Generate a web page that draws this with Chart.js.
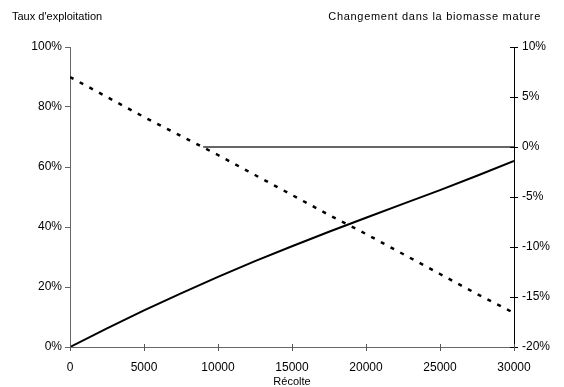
<!DOCTYPE html>
<html>
<head>
<meta charset="utf-8">
<script src="https://cdn.jsdelivr.net/npm/chart.js@4/dist/chart.umd.min.js"></script>
<style>
  html, body { margin: 0; padding: 0; background: #fff; }
  #wrap { width: 564px; height: 387px; position: relative; }
</style>
</head>
<body>
<div id="wrap"><canvas id="c" width="564" height="387"></canvas></div>
<script>
// ---- Data ----
const harvest = [0, 2500, 5000, 7500, 10000, 12500, 15000, 17500, 20000, 22500, 25000, 27500, 30000];
const exploitationRate = [0, 6.2, 12.2, 17.9, 23.4, 28.6, 33.6, 38.4, 43.1, 47.7, 52.3, 57.1, 62.0];      // % (left axis)
const biomassChange = [7.0, 5.0, 3.0, 1.1, -0.8, -2.8, -4.8, -6.8, -8.7, -10.7, -12.7, -14.7, -16.6];     // % (right axis)
const refHarvest = [9000, 30000];
const refChange = [0, 0];
const leftTitle = "Taux d'exploitation";
const rightTitle = "Changement dans la biomasse mature";
const xTitle = "Récolte";

const FONT = "'Liberation Sans', Arial, sans-serif";

const toXY = (xs, ys) => xs.map((x, i) => ({ x: x, y: ys[i] }));

// Crossing tick marks and titles
const decor = {
  id: 'decor',
  afterDraw(chart) {
    const ctx = chart.ctx;
    const ca = chart.chartArea;
    const xs = chart.scales.x, yr = chart.scales.yR;
    ctx.save();
    ctx.strokeStyle = '#000';
    ctx.lineWidth = 1;
    yr.ticks.forEach(t => {
      const py = Math.round(yr.getPixelForValue(t.value)) + 0.5;
      ctx.beginPath();
      ctx.moveTo(ca.right - 4, py);
      ctx.lineTo(ca.right + 4, py);
      ctx.stroke();
    });
    ctx.strokeStyle = '#555';
    xs.ticks.forEach(t => {
      const px = Math.round(xs.getPixelForValue(t.value)) + 0.5;
      ctx.beginPath();
      ctx.moveTo(px, ca.bottom - 3);
      ctx.lineTo(px, ca.bottom + 4);
      ctx.stroke();
    });
    ctx.fillStyle = '#000';
    ctx.font = '11px ' + FONT;
    ctx.textBaseline = 'middle';
    ctx.textAlign = 'left';
    ctx.fillText(leftTitle, 12, 17);
    ctx.textAlign = 'right';
    if ('letterSpacing' in ctx) ctx.letterSpacing = '0.7px';
    ctx.fillText(rightTitle, 541, 17);
    if ('letterSpacing' in ctx) ctx.letterSpacing = '0px';
    ctx.textAlign = 'center';
    ctx.fillText(xTitle, (ca.left + ca.right) / 2, 382);
    ctx.restore();
  }
};

new Chart(document.getElementById('c'), {
  type: 'line',
  data: {
    datasets: [
      {
        label: 'Taux d\'exploitation',
        data: toXY(harvest, exploitationRate),
        yAxisID: 'yL',
        borderColor: '#000',
        borderWidth: 2,
        pointRadius: 0,
        tension: 0,
        fill: false
      },
      {
        label: 'Changement dans la biomasse mature',
        data: toXY(harvest, biomassChange),
        yAxisID: 'yR',
        borderColor: '#000',
        borderWidth: 2.5,
        borderDash: [4, 7],
        borderCapStyle: 'butt',
        pointRadius: 0,
        tension: 0,
        fill: false
      },
      {
        label: 'Référence',
        data: toXY(refHarvest, refChange),
        yAxisID: 'yR',
        borderColor: '#333',
        borderWidth: 1.5,
        pointRadius: 0,
        fill: false
      }
    ]
  },
  options: {
    responsive: false,
    animation: false,
    layout: { padding: { top: 47, left: 0, right: 0, bottom: 0 } },
    plugins: { legend: { display: false }, tooltip: { enabled: false }, title: { display: false } },
    scales: {
      x: {
        type: 'linear',
        min: 0, max: 30000,
        ticks: { stepSize: 5000, color: '#000', font: { family: FONT, size: 12 }, padding: 13, maxRotation: 0, callback: v => String(v) },
        grid: { display: false, drawTicks: false },
        border: { display: true, color: '#666', width: 1 },
        afterFit(s) { s.height = 40; }
      },
      yL: {
        position: 'left',
        min: 0, max: 100,
        ticks: { stepSize: 20, color: '#000', font: { family: FONT, size: 12 }, padding: 3, callback: v => v + '%' },
        grid: { drawOnChartArea: false, tickLength: 5, color: '#666' },
        border: { display: true, color: '#666', width: 1 },
        afterFit(s) { s.width = 70; }
      },
      yR: {
        position: 'right',
        min: -20, max: 10,
        ticks: { stepSize: 5, color: '#000', font: { family: FONT, size: 12 }, padding: 8, callback: v => v + '%' },
        grid: { display: false, drawTicks: false },
        border: { display: true, color: '#000', width: 1 },
        afterFit(s) { s.width = 50; }
      }
    }
  },
  plugins: [decor]
});
</script>
</body>
</html>
